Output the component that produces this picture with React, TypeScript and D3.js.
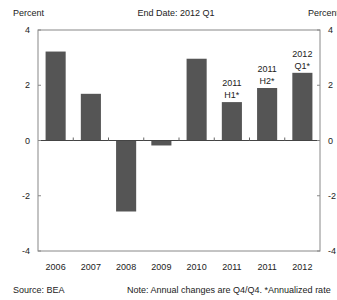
import React, { useEffect, useRef } from 'react';
import * as d3 from 'd3';

const categories = ['2006', '2007', '2008', '2009', '2010', '2011 H1', '2011 H2', '2012 Q1'];
const axisLabels = ['2006', '2007', '2008', '2009', '2010', '2011', '2011', '2012'];
const values = [3.22, 1.69, -2.57, -0.18, 2.96, 1.39, 1.9, 2.45];
const barNotes = [null, null, null, null, null, ['2011', 'H1*'], ['2011', 'H2*'], ['2012', 'Q1*']];
const yTicks = [-4, -2, 0, 2, 4];

const App = () => {
  const svgRef = useRef<SVGSVGElement>(null);

  useEffect(() => {
    const svg = d3.select(svgRef.current);
    const width = 337;
    const height = 300;
    const margin = { top: 30, right: 17, bottom: 49, left: 38 };
    const font = 'Liberation Sans, Arial, sans-serif';

    const x = d3
      .scaleBand()
      .domain(categories)
      .range([margin.left, width - margin.right])
      .paddingInner(0.43)
      .paddingOuter(0.215);

    const y = d3
      .scaleLinear()
      .domain([-4, 4])
      .range([height - margin.bottom, margin.top]);

    const left = margin.left;
    const right = width - margin.right;

    // frame
    svg
      .append('rect')
      .attr('x', left)
      .attr('y', y(4))
      .attr('width', right - left)
      .attr('height', y(-4) - y(4))
      .attr('fill', 'none')
      .attr('stroke', '#888')
      .attr('stroke-width', 1);

    // bars
    svg
      .selectAll('rect.bar')
      .data(values)
      .enter()
      .append('rect')
      .attr('class', 'bar')
      .attr('x', (d, i) => x(categories[i])!)
      .attr('width', x.bandwidth())
      .attr('y', (d) => y(Math.max(0, d)))
      .attr('height', (d) => Math.abs(y(d) - y(0)))
      .attr('fill', '#555');

    // zero line
    svg
      .append('line')
      .attr('x1', left)
      .attr('x2', right)
      .attr('y1', y(0))
      .attr('y2', y(0))
      .attr('stroke', '#444')
      .attr('stroke-width', 1);

    // band ticks on zero line
    const step = x.step();
    svg
      .selectAll('line.band-tick')
      .data(categories.slice(1))
      .enter()
      .append('line')
      .attr('x1', (d) => x(d)! - (step - x.bandwidth()) / 2)
      .attr('x2', (d) => x(d)! - (step - x.bandwidth()) / 2)
      .attr('y1', y(0))
      .attr('y2', y(0) - 3)
      .attr('stroke', '#666');

    // y ticks both sides
    [left, right].forEach((xx, side) => {
      svg
        .selectAll(`line.ytick${side}`)
        .data(yTicks)
        .enter()
        .append('line')
        .attr('x1', xx)
        .attr('x2', side === 0 ? xx + 3 : xx - 3)
        .attr('y1', (d) => y(d))
        .attr('y2', (d) => y(d))
        .attr('stroke', '#888');

      svg
        .selectAll(`text.ylab${side}`)
        .data(yTicks)
        .enter()
        .append('text')
        .attr('x', side === 0 ? xx - 8 : xx + 8)
        .attr('y', (d) => y(d) + 3)
        .attr('text-anchor', side === 0 ? 'end' : 'start')
        .attr('font-family', font)
        .attr('font-size', 9)
        .attr('fill', '#222')
        .text((d) => d);
    });

    // x labels
    svg
      .selectAll('text.xlab')
      .data(axisLabels)
      .enter()
      .append('text')
      .attr('x', (d, i) => x(categories[i])! + x.bandwidth() / 2)
      .attr('y', height - 30)
      .attr('text-anchor', 'middle')
      .attr('font-family', font)
      .attr('font-size', 9)
      .attr('fill', '#222')
      .text((d) => d);

    // notes above bars
    barNotes.forEach((n, i) => {
      if (!n) return;
      const cx = x(categories[i])! + x.bandwidth() / 2;
      const top = y(values[i]);
      svg
        .append('text')
        .attr('x', cx)
        .attr('y', top - 16)
        .attr('text-anchor', 'middle')
        .attr('font-family', font)
        .attr('font-size', 9)
        .attr('fill', '#222')
        .text(n[0]);
      svg
        .append('text')
        .attr('x', cx)
        .attr('y', top - 4)
        .attr('text-anchor', 'middle')
        .attr('font-family', font)
        .attr('font-size', 9)
        .attr('fill', '#222')
        .text(n[1]);
    });

    // header / footer texts
    const addText = (t, tx, ty, anchor = 'start') =>
      svg
        .append('text')
        .attr('x', tx)
        .attr('y', ty)
        .attr('text-anchor', anchor)
        .attr('font-family', font)
        .attr('font-size', 9)
        .attr('fill', '#222')
        .text(t);

    addText('Percent', 13, 16);
    addText('End Date: 2012 Q1', 176, 16, 'middle');
    addText('Percent', 308, 16);
    addText('Source: BEA', 13, 293);
    addText('Note: Annual changes are Q4/Q4. *Annualized rate', 127, 293);

    return () => {
      svg.selectAll('*').remove();
    };
  }, []);

  return (
    <svg
      ref={svgRef}
      width={337}
      height={300}
      style={{ position: 'absolute', left: 0, top: 0, background: '#fff' }}
    ></svg>
  );
};

export default App;
